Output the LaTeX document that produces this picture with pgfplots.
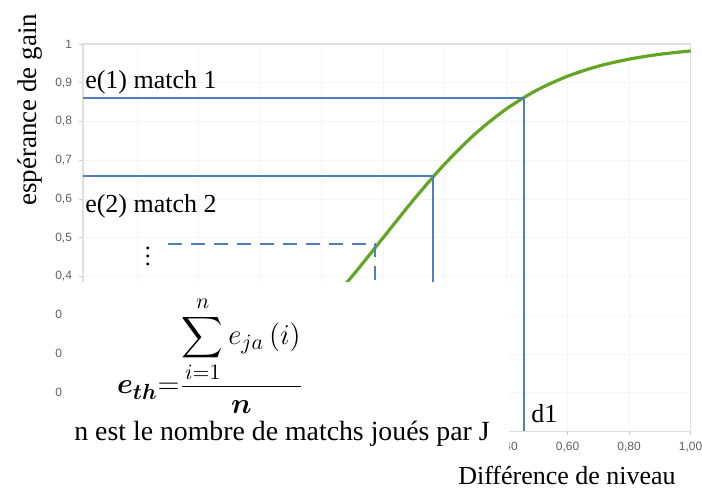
\documentclass[border=0pt]{standalone}
\usepackage{amsmath}
\usepackage{bm}
\usepackage{fontspec}
\setmainfont{Liberation Serif}
\setsansfont{Liberation Sans}
\usepackage{pgfplots}
\pgfplotsset{compat=1.18}
\definecolor{lineblue}{RGB}{79,125,190}
\definecolor{curvegreen}{RGB}{98,166,36}
\begin{document}
\begin{tikzpicture}
\begin{axis}[
    name=ax,
    scale only axis,
    width=303.9pt, height=193.8pt,
    xmin=-0.976, xmax=1, ymin=0, ymax=1,
    xtick={-0.8,-0.6,-0.4,-0.2,0,0.2,0.4,0.6,0.8,1.0},
    ytick={0,0.1,0.2,0.3,0.4,0.5,0.6,0.7,0.8,0.9,1},
    tick align=outside,
    major tick length=2pt,
    tick style={gray!40, line width=0.4pt},
    xtick pos=bottom, ytick pos=left,
    axis line style={gray!25, line width=0.6pt},
    grid=major,
    grid style={gray!7, line width=0.4pt},
    ticklabel style={font=\sffamily\fontsize{6}{7}\selectfont, text=gray!75!black},
    /pgf/number format/assume math mode=true,
    xticklabel style={/pgf/number format/.cd, fixed, fixed zerofill, precision=2, use comma},
    yticklabel style={/pgf/number format/.cd, fixed, precision=1, use comma},
    clip=false,
  ]
  % courbe d'esperance de gain
  \addplot[curvegreen, line width=1.6pt, smooth] coordinates {
    (-0.9,0.0266) (-0.8,0.0392) (-0.7,0.0573) (-0.6,0.0832) (-0.5,0.1192)
    (-0.4,0.1680) (-0.3,0.2315) (-0.2,0.3100) (-0.1,0.4013) (0,0.5000)
    (0.1,0.5987) (0.2,0.6900) (0.3,0.7685) (0.4,0.8320) (0.5,0.8808)
    (0.6,0.9168) (0.7,0.9427) (0.8,0.9608) (0.9,0.9734) (1.0,0.9820)};
  % lectures match 1, match 2, ...
  \addplot[lineblue, line width=1pt] coordinates {(-0.976,0.861) (0.458,0.861) (0.458,0)};
  \addplot[lineblue, line width=1pt] coordinates {(-0.976,0.659) (0.162,0.659) (0.162,0)};
  \addplot[lineblue, line width=1pt, dash pattern=on 7pt off 4.5pt] coordinates {(-0.700,0.484) (-0.025,0.484) (-0.025,0)};

  \node[anchor=base west, inner sep=0pt, font=\fontsize{13}{15}\selectfont] at (axis cs:-0.970,0.886) {e(1) match 1};
  \node[anchor=base west, inner sep=0pt, font=\fontsize{13}{15}\selectfont] at (axis cs:-0.970,0.564) {e(2) match 2};
  \node[anchor=base west, inner sep=0pt, font=\fontsize{13}{15}\selectfont] at (axis cs:0.481,0.022) {d1};
  \node[font=\fontsize{12}{14}\selectfont] at (axis cs:-0.765,0.468) {$\vdots$};

  \node[rotate=90, font=\fontsize{13.5}{15}\selectfont] at (axis cs:-1.149,0.830) {espérance de gain};
  \node[font=\fontsize{13}{15}\selectfont] at (axis cs:0.598,-0.114) {Différence de niveau};

  \coordinate (boxA) at (axis cs:-1.043,0.386);
  \coordinate (boxB) at (axis cs:0.409,-0.074);
  \coordinate (formula) at (axis cs:-0.563,0.197);
  \coordinate (note) at (axis cs:-0.329,-0.006);
  \coordinate (bbA) at (axis cs:-1.246,1.1135);
  \coordinate (bbB) at (axis cs:1.037,-0.148);
\end{axis}
\fill[white] (boxA) rectangle (boxB);
\node[font=\fontsize{15}{18}\selectfont] at (formula)
  {$\bm{e_{th}}{=}\dfrac{\displaystyle\sum_{i=1}^{n} e_{ja}\left(i\right)}{\bm{n}}$};
\node[font=\fontsize{13.9}{16}\selectfont] at (note) {n est le nombre de matchs joués par J};
\pgfresetboundingbox
\path[use as bounding box] (bbA) rectangle (bbB);
\end{tikzpicture}
\end{document}
